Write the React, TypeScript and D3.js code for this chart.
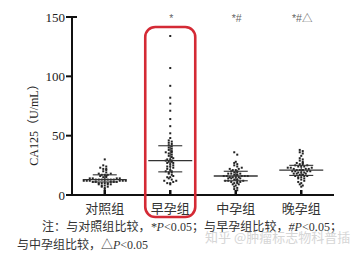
import React from "react";
import * as d3 from "d3";

const categories = ["对照组", "早孕组", "中孕组", "晚孕组"];
const control = [30, 25, 24, 23, 22, 22, 21, 20, 19, 18, 18, 17, 17, 17, 16, 16, 15, 15, 14, 14, 14, 14, 13, 13, 13, 13, 13, 13, 13, 12, 12, 12, 12, 12, 12, 11, 11, 11, 11, 11, 10, 10, 10, 10, 9, 9, 9, 8, 8, 7, 7, 6, 5];
const early = [134, 107, 92, 82, 77, 71, 64, 58, 52, 48, 46, 45, 44, 43, 42, 41, 40, 39, 38, 37, 36, 36, 35, 34, 33, 32, 31, 30, 30, 29, 29, 28, 28, 27, 27, 26, 25, 24, 24, 23, 22, 21, 20, 20, 19, 19, 18, 17, 16, 15, 15, 14, 13, 12, 12, 11, 10, 10, 9];
const mid = [36, 34, 28, 27, 26, 25, 24, 23, 22, 22, 21, 21, 20, 20, 19, 19, 18, 18, 18, 17, 17, 17, 16, 16, 16, 16, 16, 15, 15, 15, 15, 14, 14, 14, 13, 13, 13, 12, 12, 12, 11, 11, 11, 10, 10, 9, 9, 8, 7, 6, 5, 4];
const late = [38, 37, 36, 35, 33, 31, 30, 29, 28, 27, 27, 26, 26, 25, 25, 24, 24, 24, 23, 23, 23, 22, 22, 22, 21, 21, 21, 21, 20, 20, 20, 20, 19, 19, 19, 18, 18, 18, 17, 17, 17, 16, 16, 16, 15, 15, 14, 14, 13, 12, 11, 10, 9, 8, 7];
const seriesValues = [control, early, mid, late];
const sigMarks = ["", "*", "*#", "*#△"];
const yTicks = [0, 50, 100, 150];

const W = 363, H = 256;
const x0 = 72, x1 = 334, yTop = 17, yBot = 195;

export default function App() {
  const x = d3.scalePoint<string>().domain(categories).range([x0, x1]).padding(0.5);
  const y = d3.scaleLinear().domain([0, 150]).range([yBot, yTop]);
  const rowH = 2.6, dx = 3;

  const groups = categories.map((c, gi) => {
    const vals = seriesValues[gi].slice().sort((a, b) => a - b);
    const bins = d3.group(vals, (v) => Math.round(y(v) / rowH));
    const pts: { cx: number; cy: number }[] = [];
    bins.forEach((arr) => {
      arr.forEach((v, i) => {
        const k = Math.ceil(i / 2) * (i % 2 === 1 ? -1 : 1);
        const off = arr.length % 2 === 0 ? (k + (k <= 0 ? 0.5 : -0.5)) : k;
        pts.push({ cx: (x(c) as number) + off * dx, cy: y(v) });
      });
    });
    const med = d3.median(vals) as number;
    const q1 = d3.quantile(vals, 0.25) as number;
    const q3 = d3.quantile(vals, 0.75) as number;
    return { c, pts, med, q1, q3, cx: x(c) as number };
  });

  const ex = x("早孕组") as number;

  return (
    <svg width={W} height={H} style={{ position: "absolute", left: 0, top: 0, background: "#fff" }}>
      <line x1={x0} x2={x0} y1={yTop} y2={yBot + 1} stroke="#111" strokeWidth={2} />
      <line x1={x0 - 1} x2={x1} y1={yBot} y2={yBot} stroke="#111" strokeWidth={2} />
      {yTicks.map((t) => (
        <g key={t}>
          <line x1={x0 - 6} x2={x0} y1={y(t)} y2={y(t)} stroke="#111" strokeWidth={2} />
          <text x={65} y={y(t) + 4.5} textAnchor="end" fontFamily="Liberation Serif" fontSize={13} fill="#222">{t}</text>
        </g>
      ))}
      <line x1={x0} x2={x0 + 5} y1={y(150)} y2={y(150)} stroke="#111" strokeWidth={2} />
      <text transform={`translate(38,${122}) rotate(-90)`} textAnchor="middle" fontFamily="Liberation Serif, Noto Sans CJK SC" fontSize={12} fill="#222">CA125（U/mL）</text>
      {groups.map((g, i) => (
        <g key={g.c}>
          <line x1={g.cx} x2={g.cx} y1={yBot - 5} y2={yBot} stroke="#111" strokeWidth={2.5} />
          {g.pts.map((p, j) => (
            <rect key={j} x={p.cx - 1} y={p.cy - 1} width={2} height={2} fill="#222" />
          ))}
          <line x1={g.cx - 22} x2={g.cx + 22} y1={y(g.med)} y2={y(g.med)} stroke="#333" strokeWidth={1.3} />
          <line x1={g.cx - 12} x2={g.cx + 12} y1={y(g.q1)} y2={y(g.q1)} stroke="#333" strokeWidth={1.1} />
          <line x1={g.cx - 12} x2={g.cx + 12} y1={y(g.q3)} y2={y(g.q3)} stroke="#333" strokeWidth={1.1} />
          <line x1={g.cx} x2={g.cx} y1={y(g.q1)} y2={y(g.q3)} stroke="#333" strokeWidth={1.1} />
          <text x={g.cx} y={213} textAnchor="middle" fontFamily="Noto Sans CJK SC" fontSize={13} fill="#333">{g.c}</text>
          {sigMarks[i] && (
            <text x={g.cx + 1} y={22} textAnchor="middle" fontFamily="Liberation Sans, Noto Sans CJK SC" fontSize={10.5} fill="#666">{sigMarks[i]}</text>
          )}
        </g>
      ))}
      <rect x={ex - 25} y={27} width={50} height={190} rx={10} ry={10} fill="none" stroke="#d42a35" strokeWidth={2.6} />
      <text x={42} y={231} fontFamily="Noto Sans CJK SC, Liberation Serif" fontSize={12} fill="#333" textLength={300} lengthAdjust="spacing">
        注：与对照组比较，<tspan fontFamily="Liberation Serif" fontStyle="italic">*P</tspan><tspan fontFamily="Liberation Serif">&lt;0.05</tspan>；与早孕组比较，<tspan fontFamily="Liberation Serif" fontStyle="italic">#P</tspan><tspan fontFamily="Liberation Serif">&lt;0.05</tspan>；
      </text>
      <text x={17} y={249} fontFamily="Noto Sans CJK SC, Liberation Serif" fontSize={12} fill="#333" textLength={131} lengthAdjust="spacing">
        与中孕组比较，△<tspan fontFamily="Liberation Serif" fontStyle="italic">P</tspan><tspan fontFamily="Liberation Serif">&lt;0.05</tspan>
      </text>
      <text x={205} y={242} fontFamily="Noto Sans CJK SC" fontSize={13} fill="#cfcfcf" opacity={0.85}>知乎 @肿瘤标志物科普插</text>
    </svg>
  );
}
